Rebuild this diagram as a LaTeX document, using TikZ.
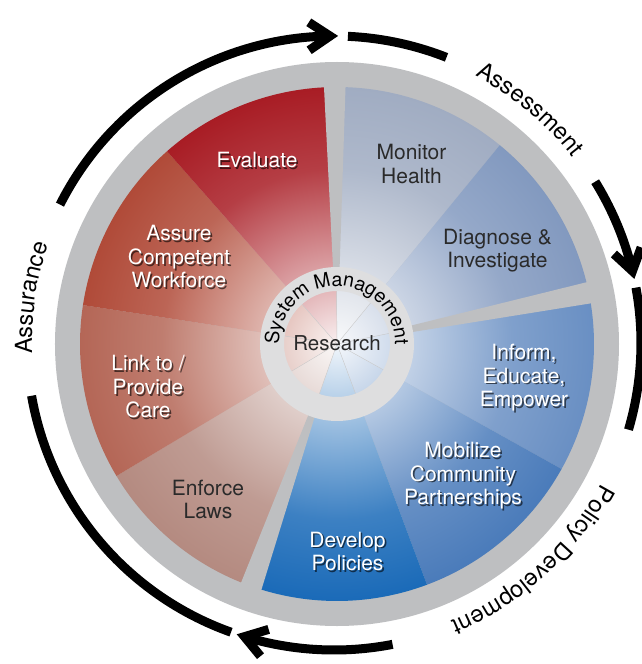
\documentclass[tikz,border=0pt]{standalone}
\usepackage{fontspec}
\newfontfamily\hv{TeX Gyre Heros}
\usetikzlibrary{calc,decorations.text}

\definecolor{ringgray}{HTML}{BEBFC1}
\definecolor{hubgray}{HTML}{DEDEDF}
\definecolor{cEval}{HTML}{A81C24}
\definecolor{cAssure}{HTML}{B04A38}
\definecolor{cLink}{HTML}{B46656}
\definecolor{cEnforce}{HTML}{B48A80}
\definecolor{cDevelop}{HTML}{1A6AB8}
\definecolor{cMobil}{HTML}{4A7BBA}
\definecolor{cInform}{HTML}{698FC3}
\definecolor{cDiag}{HTML}{8299BF}
\definecolor{cMonitor}{HTML}{A0ACC2}
\definecolor{txtdark}{HTML}{2A2A2A}
\colorlet{wc}{cEval}

\pgfdeclareradialshading[wc]{wshade}{\pgfpointorigin}{%
  color(0bp)=(wc!6!white); color(7bp)=(wc!40!white);
  color(17bp)=(wc!85!white); color(25bp)=(wc); color(50bp)=(wc)}

\tikzset{
  lbl/.style={font=\hv\fontsize{21pt}{23.5pt}\selectfont, align=center, inner sep=0pt},
  bigarc/.style={line width=9pt, black},
  chevline/.style={line width=9pt, black, line join=miter, miter limit=10},
}

\newcommand\wedgeshade[3]{%
  \begin{scope}
    \colorlet{wc}{#3}%
    \clip (0,0) -- (#1:257pt) arc[start angle=#1, end angle=#2, radius=257pt] -- cycle;
    \shade[shading=wshade] (0,0) circle (258pt);
  \end{scope}}

\newcommand\gapbar[1]{%
  \fill[ringgray] (#1-2.5:60pt) -- (#1-2.4:265pt) -- (#1+2.4:265pt) -- (#1+2.5:60pt) -- cycle;}

\newcommand\shlabel[3]{%
  \node[lbl, text=black, opacity=0.6] (#1s) at ($(#2)+(1.6pt,-1.6pt)$) {#3};
  \node[lbl, text=white] (#1) at (#2) {#3};}

\newcommand\chev[2]{%
  \coordinate (#2) at ($(A)+(#1:307pt)$);
  \draw[chevline] ($(#2)+(#1+90:21pt)+(#1:14pt)$) -- (#2) -- ($(#2)+(#1+90:21pt)+(#1:-14pt)$);}

\begin{document}
\begin{tikzpicture}[x=1pt,y=1pt]
\useasboundingbox (-337pt,-320pt) rectangle (305pt,344pt);
\clip (-337pt,-320pt) rectangle (305pt,344pt);
\fill[white] (-337pt,-320pt) rectangle (305pt,344pt);

% outer gray disk
\fill[ringgray] (0,0) circle (282pt);

% wedges
\wedgeshade{90.5}{50.7}{cMonitor}
\wedgeshade{50.7}{11.5}{cDiag}
\wedgeshade{11.5}{-29.1}{cInform}
\wedgeshade{-29.1}{-69.5}{cMobil}
\wedgeshade{-69.5}{-109.5}{cDevelop}
\wedgeshade{-109.5}{-149.1}{cEnforce}
\wedgeshade{-149.1}{-188.7}{cLink}
\wedgeshade{171.3}{131.4}{cAssure}
\wedgeshade{131.4}{90.5}{cEval}

% faint boundary lines in inner disk
\foreach \a in {90.5,50.7,11.5,-29.1,-69.5,-109.5,-149.1,171.3,131.4}
  \draw[line width=0.4pt, black!20] (0,0) -- (\a:60pt);

% gaps between groups
\gapbar{90.5}
\gapbar{11.5}
\gapbar{-109.5}

% hub ring
\fill[hubgray, even odd rule] (0,0) circle (77pt) (0,0) circle (53pt);

% System Management
\path[decorate, decoration={text along path, text align=center,
  text={|\hv\fontsize{19.5pt}{22pt}\selectfont|System Management}}]
  (190:58pt) arc[start angle=190, end angle=-10, radius=58pt];

\node[lbl, font=\hv\fontsize{20.5pt}{23pt}\selectfont, text=txtdark] (research) at (0pt,1pt) {Research};

% wedge labels
\node[lbl, text=txtdark] (monitor) at (74.5pt,180pt) {Monitor\\Health};
\node[lbl, text=txtdark] (diagnose) at (160.5pt,93.5pt) {Diagnose \&\\Investigate};
\node[lbl, text=txtdark] (enforce) at (-129pt,-155.5pt) {Enforce\\Laws};
\shlabel{evaluate}{-80pt,184pt}{Evaluate}
\shlabel{assure}{-158pt,87pt}{Assure\\Competent\\Workforce}
\shlabel{link}{-189pt,-43pt}{Link to /\\Provide\\Care}
\shlabel{develop}{10.5pt,-207.5pt}{Develop\\Policies}
\shlabel{mobilize}{126pt,-132pt}{Mobilize\\Community\\Partnerships}
\shlabel{inform}{187pt,-34pt}{Inform,\\Educate,\\Empower}

% outer cycle arcs
\coordinate (A) at (-3pt,1pt);
\draw[bigarc] ($(A)+(153.2:307pt)$) arc[start angle=153.2, end angle=90.75, radius=307pt];
\chev{90.75}{tipTop}
\draw[bigarc] ($(A)+(87.4:307pt)$) arc[start angle=87.4, end angle=68.5, radius=307pt];
\draw[bigarc] ($(A)+(31.7:307pt)$) arc[start angle=31.7, end angle=13.55, radius=307pt];
\chev{13.55}{tipRight}
\draw[bigarc] ($(A)+(10.4:307pt)$) arc[start angle=10.4, end angle=-16.4, radius=307pt];
\draw[bigarc] ($(A)+(-79:307pt)$) arc[start angle=-79, end angle=-106.95, radius=307pt];
\chev{-106.95}{tipBottom}
\draw[bigarc] ($(A)+(-109.6:307pt)$) arc[start angle=-109.6, end angle=-170.1, radius=307pt];

% outer labels
\path[decorate, decoration={text along path, text align=center,
  text={|\hv\fontsize{23.5pt}{28pt}\selectfont|Assessment}}]
  ($(A)+(75:302pt)$) arc[start angle=75, end angle=25, radius=302pt];
\path[decorate, decoration={text along path, text align=center,
  text={|\hv\fontsize{23.5pt}{28pt}\selectfont|Policy Development}}]
  ($(A)+(-10:302pt)$) arc[start angle=-10, end angle=-85, radius=302pt];
\path[decorate, decoration={text along path, text align=center,
  text={|\hv\fontsize{23.5pt}{28pt}\selectfont|Assurance}}]
  ($(A)+(200:302pt)$) arc[start angle=200, end angle=143, radius=302pt];
\end{tikzpicture}
\end{document}
